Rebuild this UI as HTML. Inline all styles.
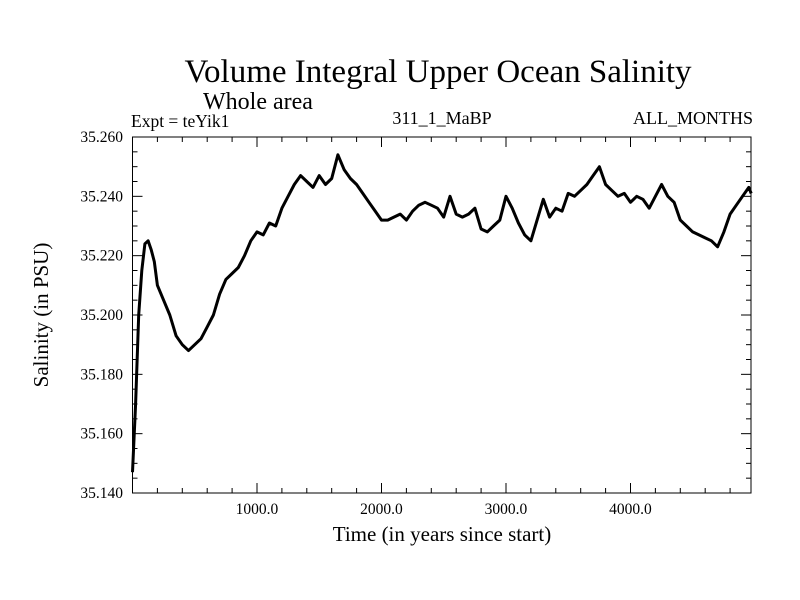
<!DOCTYPE html>
<html><head><meta charset="utf-8"><style>
body{margin:0;background:#fff}
svg{display:block;font-family:"Liberation Serif",serif}
</style></head><body>
<svg id="chart" width="800" height="600">
<rect width="800" height="600" fill="#fff"/>
<text x="438" y="82" font-size="33" text-anchor="middle">Volume Integral Upper Ocean Salinity</text>
<text x="203" y="109" font-size="24">Whole area</text>
<text x="131" y="127" font-size="17.5">Expt = teYik1</text>
<text x="442" y="124" font-size="18" text-anchor="middle">311_1_MaBP</text>
<text x="753" y="124" font-size="18" text-anchor="end">ALL_MONTHS</text>
<text x="442" y="541" font-size="21" text-anchor="middle">Time (in years since start)</text>
<text transform="translate(48,315) rotate(-90)" font-size="21" text-anchor="middle">Salinity (in PSU)</text>
<g id="axes"></g>
<path id="line" fill="none" stroke="#000" stroke-width="3" stroke-linejoin="round"/>
<rect x="132.5" y="137" width="618.5" height="356" fill="none" stroke="#000" stroke-width="1"/>
</svg>
<script>
const years=[0,25,50,75,100,125,150,175,200,250,300,350,400,450,500,550,600,650,700,750,800,850,900,950,1000,1050,1100,1150,1200,1250,1300,1350,1400,1450,1500,1550,1600,1650,1700,1750,1800,1850,1900,1950,2000,2050,2100,2150,2200,2250,2300,2350,2400,2450,2500,2550,2600,2650,2700,2750,2800,2850,2900,2950,3000,3050,3100,3150,3200,3250,3300,3350,3400,3450,3500,3550,3600,3650,3700,3750,3800,3850,3900,3950,4000,4050,4100,4150,4200,4250,4300,4350,4400,4450,4500,4550,4600,4650,4700,4750,4800,4850,4900,4950,4970];
const salinity=[35.147,35.170,35.200,35.215,35.224,35.225,35.222,35.218,35.210,35.205,35.200,35.193,35.190,35.188,35.190,35.192,35.196,35.200,35.207,35.212,35.214,35.216,35.220,35.225,35.228,35.227,35.231,35.230,35.236,35.240,35.244,35.247,35.245,35.243,35.247,35.244,35.246,35.254,35.249,35.246,35.244,35.241,35.238,35.235,35.232,35.232,35.233,35.234,35.232,35.235,35.237,35.238,35.237,35.236,35.233,35.240,35.234,35.233,35.234,35.236,35.229,35.228,35.230,35.232,35.240,35.236,35.231,35.227,35.225,35.232,35.239,35.233,35.236,35.235,35.241,35.240,35.242,35.244,35.247,35.250,35.244,35.242,35.240,35.241,35.238,35.240,35.239,35.236,35.240,35.244,35.240,35.238,35.232,35.230,35.228,35.227,35.226,35.225,35.223,35.228,35.234,35.237,35.240,35.243,35.241];
const xTicks=[1000,2000,3000,4000];
const xTickLabels=["1000.0","2000.0","3000.0","4000.0"];
const yTicks=[35.14,35.16,35.18,35.20,35.22,35.24,35.26];
const yTickLabels=["35.140","35.160","35.180","35.200","35.220","35.240","35.260"];
const X0=132.5,X1=751,Y0=493,Y1=137,XMAX=4968,YMIN=35.14,YMAX=35.26;
const sx=v=>X0+(v/XMAX)*(X1-X0);
const sy=v=>Y0-(v-YMIN)/(YMAX-YMIN)*(Y0-Y1);
const NS="http://www.w3.org/2000/svg";
const ax=document.getElementById('axes');
function ln(x1,y1,x2,y2,name){const l=document.createElementNS(NS,'line');l.setAttribute('x1',x1);l.setAttribute('y1',y1);l.setAttribute('x2',x2);l.setAttribute('y2',y2);l.setAttribute('stroke','#000');l.setAttribute('stroke-width','1');


ax.appendChild(l);}
function tx(x,y,s,anchor,name){const t=document.createElementNS(NS,'text');t.setAttribute('x',x);t.setAttribute('y',y);t.setAttribute('font-size','15.5');t.setAttribute('text-anchor',anchor);t.textContent=s;


ax.appendChild(t);}
for(let v=200;v<XMAX;v+=200){const big=v%1000===0;const x=sx(v);ln(x,Y0,x,Y0-(big?10:5),'x-tick');ln(x,Y1,x,Y1+(big?10:5),'x-tick-top');}
xTicks.forEach((v,i)=>tx(sx(v),514,xTickLabels[i],'middle','x-tick-label'));
for(let k=0;k<=24;k++){const v=YMIN+k*0.005;const big=k%4===0;const y=sy(v);ln(X0,y,X0+(big?10:5),y,'y-tick');ln(X1,y,X1-(big?10:5),y,'y-tick-right');}
yTicks.forEach((v,i)=>tx(123,sy(v)+5,yTickLabels[i],'end','y-tick-label'));
document.getElementById('line').setAttribute('d',years.map((y,i)=>(i?'L':'M')+sx(y).toFixed(1)+','+sy(salinity[i]).toFixed(1)).join(''));
</script>
</body></html>
